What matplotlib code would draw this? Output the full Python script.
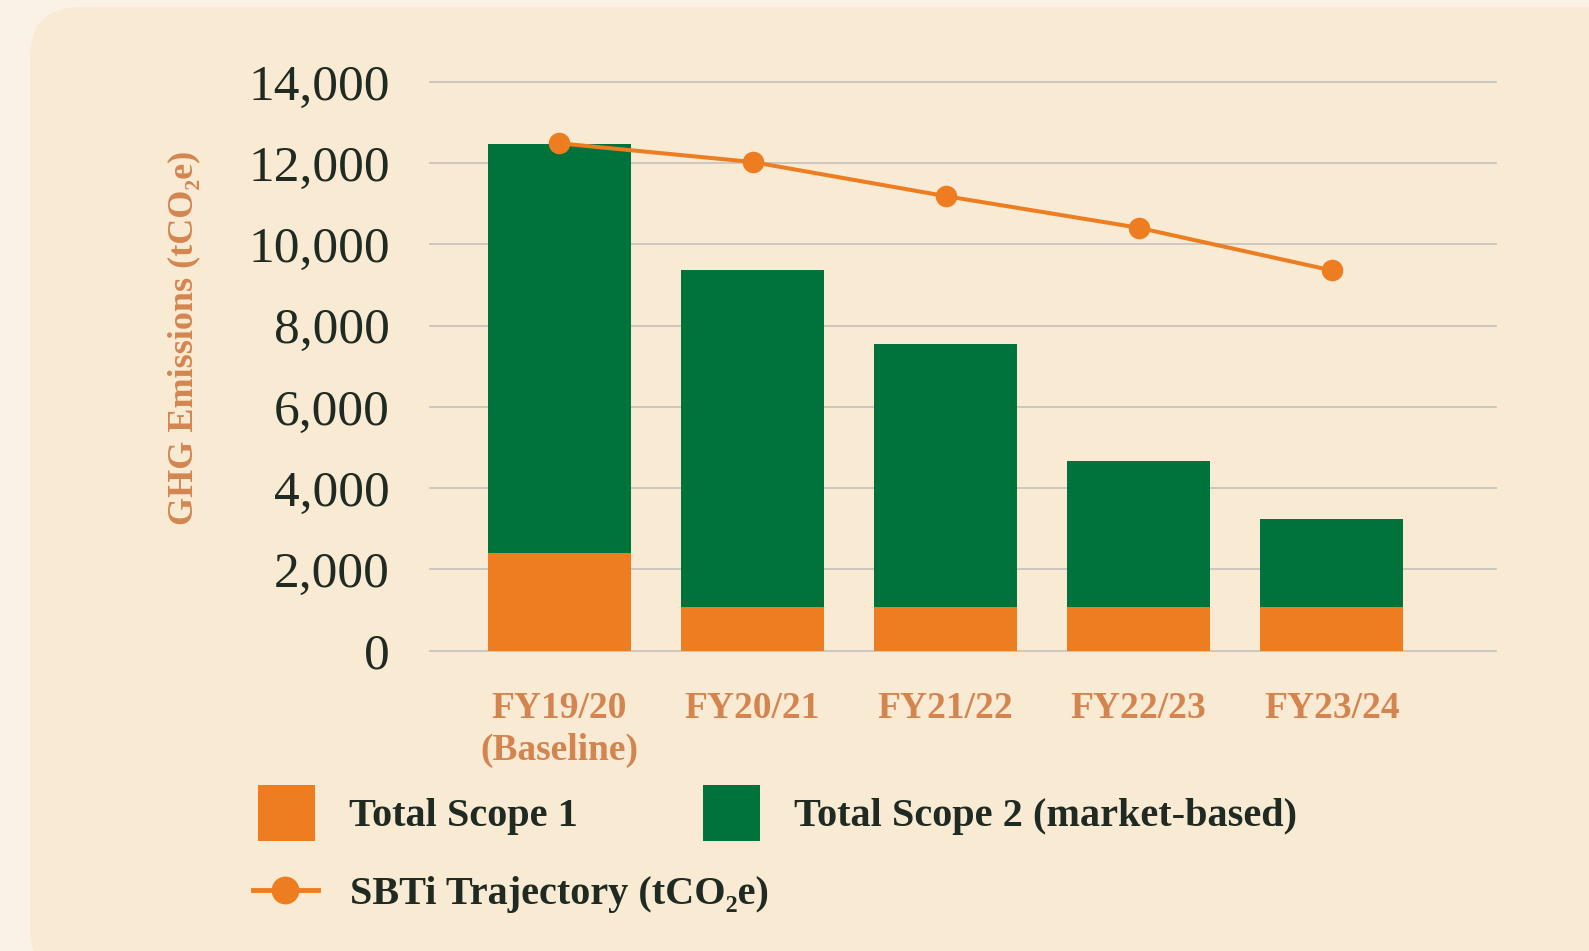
import matplotlib.pyplot as plt
from matplotlib.patches import FancyBboxPatch, Patch
from matplotlib.lines import Line2D
import numpy as np

# data (tCO2e)
years = ['FY19/20\n(Baseline)', 'FY20/21', 'FY21/22', 'FY22/23', 'FY23/24']
scope1 = [2400, 1070, 1070, 1070, 1070]
scope2 = [10080, 8290, 6480, 3590, 2165]
sbti = [12490, 12030, 11190, 10410, 9360]

orange = '#EE7D22'
green = '#00733D'
dark = '#1F2A22'
label_col = '#D4854F'
panel = '#F8EAD3'
outer = '#FAF2E7'

serif = ['Liberation Serif', 'DejaVu Serif']
plt.rcParams['font.family'] = serif

fig = plt.figure(figsize=(15.89, 9.51), dpi=100)
fig.patch.set_facecolor(outer)

# rounded background panel (pixel coords)
W, H = 1589, 951
bg = FancyBboxPatch((30 / W, -27 / H), 1700 / W, (944 + 27) / H,
                    boxstyle='round,pad=0,rounding_size=0.032',
                    transform=fig.transFigure, facecolor=panel,
                    edgecolor='none', zorder=-5, mutation_aspect=W / H)
fig.patches.append(bg)

ax = fig.add_axes([430 / W, 300.5 / H, 1066 / W, 568.5 / H])
ax.set_facecolor('none')

x = np.arange(len(years))
ax.bar(x, scope1, width=0.74, color=orange, zorder=3)
ax.bar(x, scope2, width=0.74, bottom=scope1, color=green, zorder=3)
ax.plot(x, sbti, color=orange, lw=2.9, marker='o', ms=14.5, zorder=4)

ax.set_xlim(-0.67, 4.85)
ax.set_ylim(0, 14000)
ax.set_yticks(np.arange(0, 14001, 2000))
ax.set_yticklabels([f'{v:,}' for v in range(0, 14001, 2000)])
ax.grid(axis='y', color='#C8C5BD', lw=1.3, zorder=1, clip_on=False)
ax.set_axisbelow(True)
for s in ax.spines.values():
    s.set_visible(False)
ax.tick_params(axis='y', length=0, pad=29, labelsize=37, labelcolor=dark)
ax.tick_params(axis='x', length=0, pad=29, labelsize=27, labelcolor=label_col)
ax.set_xticks(x)
ax.set_xticklabels(years, fontweight='bold', linespacing=1.25)

fig.text(184 / W, 1 - 338 / H, 'GHG Emissions (tCO₂e)', rotation=90,
         ha='center', va='center', fontsize=26, fontweight='bold',
         color=label_col)

# legend
h1 = [Patch(facecolor=orange, edgecolor='none', label='Total Scope 1'),
      Patch(facecolor=green, edgecolor='none', label='Total Scope 2 (market-based)')]
leg1 = fig.legend(handles=h1, ncol=2, loc='center left',
                  bbox_to_anchor=(238 / W, 1 - 813 / H), frameon=False,
                  handlelength=1.4, handleheight=1.75,
                  handletextpad=0.85, columnspacing=3.12, borderpad=0,
                  prop={'weight': 'bold', 'size': 29})
for t in leg1.get_texts():
    t.set_color(dark)
h2 = [Line2D([0], [0], color=orange, lw=3.5, marker='o', ms=19,
             label='SBTi Trajectory (tCO₂e)')]
leg2 = fig.legend(handles=h2, loc='center left',
                  bbox_to_anchor=(233 / W, 1 - 894 / H), frameon=False,
                  handlelength=1.6, handletextpad=0.8, borderpad=0,
                  prop={'weight': 'bold', 'size': 29})
for t in leg2.get_texts():
    t.set_color(dark)

fig.savefig('out.png', dpi=100, facecolor=outer)
